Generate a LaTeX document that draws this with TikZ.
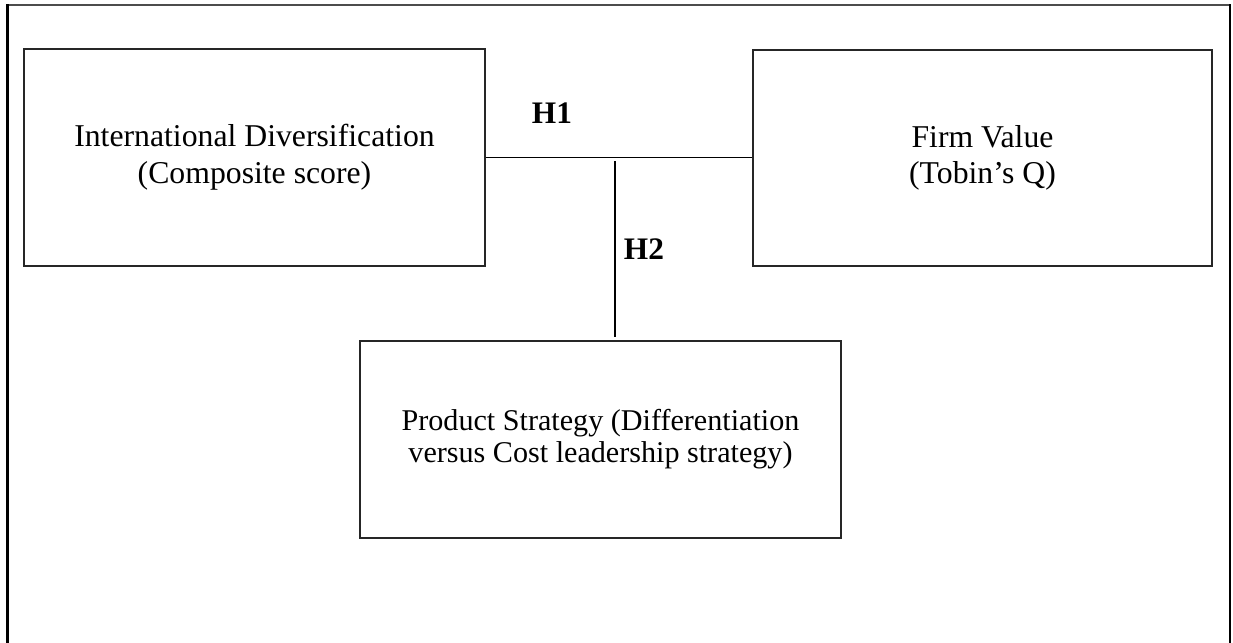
\documentclass[tikz,border=0pt]{standalone}
\usepackage{fontspec}
\setmainfont{Liberation Serif}
\begin{document}
\begin{tikzpicture}[x=0.75pt,y=-0.75pt,
  varbox/.style={draw=black!85,line width=0.9pt,rectangle,inner sep=0pt,
    align=center,font=\fontsize{23.8}{27.5}\selectfont},
  hyp/.style={font=\fontsize{23.5}{26}\selectfont\bfseries,anchor=base,inner sep=0pt},
  link/.style={draw=black,line width=1pt}]
\useasboundingbox (0,0) rectangle (1233,643);
% outer frame, open at the bottom
\draw[black!70,line width=1.5pt] (6,4.5) -- (1230,4.5);
\draw[black,line width=1.9pt] (7.5,4) -- (7.5,643);
\draw[black,line width=1.9pt] (1230,4) -- (1230,643);
% variables
\node[varbox,minimum width=461*0.75pt,minimum height=217*0.75pt] (ID) at (254.5,157.5)
  {International Diversification\\(Composite score)};
\node[varbox,minimum width=459*0.75pt,minimum height=216*0.75pt] (FV) at (982.5,158)
  {Firm Value\\(Tobin’s Q)};
\node[varbox,font=\fontsize{22.6}{24}\selectfont,
  minimum width=481*0.75pt,minimum height=197*0.75pt] (PS) at (600.5,439.5)
  {Product Strategy (Differentiation\\versus Cost leadership strategy)};
% hypotheses
\draw[link] (ID.east) -- (ID.east -| FV.west);
\coordinate (j) at (615,161);
\draw[link,shorten >=2.5pt] (j) -- (j |- PS.north);
\node[hyp] (H1) at (552,123) {H1};
\node[hyp] (H2) at (644,259) {H2};
\end{tikzpicture}
\end{document}
